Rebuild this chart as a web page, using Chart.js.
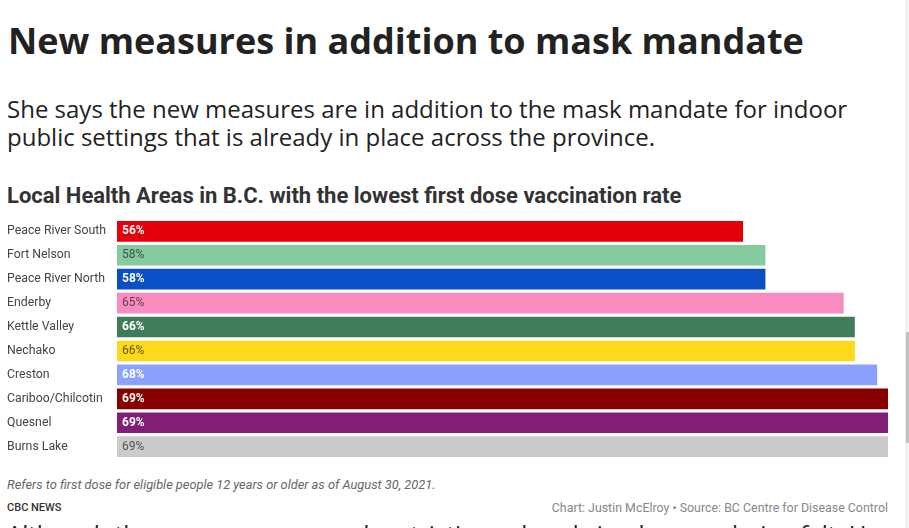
<!DOCTYPE html>
<html>
<head>
<meta charset="utf-8">
<script src="https://cdn.jsdelivr.net/npm/chart.js@4"></script>
<style>
	html, body { margin: 0; padding: 0; background: #fff; overflow: hidden; }
	body { width: 909px; height: 528px; position: relative; }
	.abs { position: absolute; white-space: nowrap; }
	#headline { left: 8px; top: 17px; font: 700 36px/48px "Open Sans"; color: #222; }
	#dek { left: 7px; top: 95px; font: 400 24px/28px "Open Sans"; color: #222; }
	#charttitle { left: 7px; top: 183px; font: 700 22px/26px Roboto; color: #333; }
	#notes { left: 7px; top: 478px; font: italic 400 12.8px/14px Roboto; color: #666; }
	#byline { left: 7px; top: 501px; font: 500 11px/14px Roboto; color: #333; }
	#credits { right: 21px; top: 501px; font: 400 12.4px/14px Roboto; color: #888; }
	#body { left: 7px; top: 520px; font: 400 24px/28px "Open Sans"; color: #222; }
	#wrap { position: absolute; left: 0; top: 212px; width: 895px; height: 254px; }
	#track { position: absolute; left: 905px; top: 0; width: 4px; height: 528px; background: #f1f1f1; }
	#thumb { position: absolute; left: 906px; top: 332px; width: 3px; height: 111px; background: #c1c1c1; }
</style>
</head>
<body>
<div class="abs" id="headline">New measures in addition to mask mandate</div>
<div class="abs" id="dek">She says the new measures are in addition to the mask mandate for indoor<br>public settings that is already in place across the province.</div>
<div class="abs" id="charttitle">Local Health Areas in B.C. with the lowest first dose vaccination rate</div>
<div id="wrap"><canvas id="chart"></canvas></div>
<div class="abs" id="notes">Refers to first dose for eligible people 12 years or older as of August 30, 2021.</div>
<div class="abs" id="byline">CBC NEWS</div>
<div class="abs" id="credits">Chart: Justin McElroy • Source: BC Centre for Disease Control</div>
<div class="abs" id="body">Although the new measures and restrictions already in place are being felt, Henry says some</div>
<div id="track"></div>
<div id="thumb"></div>
<script>
const areas = ['Peace River South', 'Fort Nelson', 'Peace River North', 'Enderby', 'Kettle Valley',
	'Nechako', 'Creston', 'Cariboo/Chilcotin', 'Quesnel', 'Burns Lake'];
const firstDose = [56, 58, 58, 65, 66, 66, 68, 69, 69, 69];

const barColors = ['#e3000b', '#86cba0', '#0b4fc6', '#f88bbf', '#3f7d5a',
	'#fed81a', '#8ca1fe', '#870000', '#801f73', '#cbcbcb'];
const darkBars = [true, false, true, false, true, false, true, true, true, false];

const valueLabels = {
	id: 'valueLabels',
	afterDatasetsDraw(chart) {
		const ctx = chart.ctx;
		const meta = chart.getDatasetMeta(0);
		ctx.save();
		ctx.textBaseline = 'middle';
		ctx.textAlign = 'left';
		meta.data.forEach((bar, i) => {
			if (darkBars[i]) {
				ctx.font = '700 12px Roboto';
				ctx.fillStyle = '#ffffff';
			} else {
				ctx.font = '400 12px Roboto';
				ctx.fillStyle = 'rgba(40,40,40,0.75)';
			}
			ctx.fillText(firstDose[i] + '%', bar.base + 5, bar.y);
		});
		ctx.restore();
	}
};

new Chart(document.getElementById('chart'), {
	type: 'bar',
	data: {
		labels: areas,
		datasets: [{
			data: firstDose,
			backgroundColor: barColors,
			borderWidth: 0,
			barThickness: 20,
		}]
	},
	options: {
		indexAxis: 'y',
		responsive: true,
		maintainAspectRatio: false,
		animation: false,
		layout: { padding: { left: 7, right: 7, top: 0, bottom: 0 } },
		plugins: { legend: { display: false }, tooltip: { enabled: false } },
		scales: {
			x: { display: false, min: 0, max: 69 },
			y: {
				grid: { display: false },
				border: { display: false },
				afterFit(scale) { scale.width = 110; },
				ticks: {
					crossAlign: 'far',
					padding: 0,
					color: '#444',
					font: { family: 'Roboto', size: 12.3 }
				}
			}
		}
	},
	plugins: [valueLabels]
});
</script>
</body>
</html>
